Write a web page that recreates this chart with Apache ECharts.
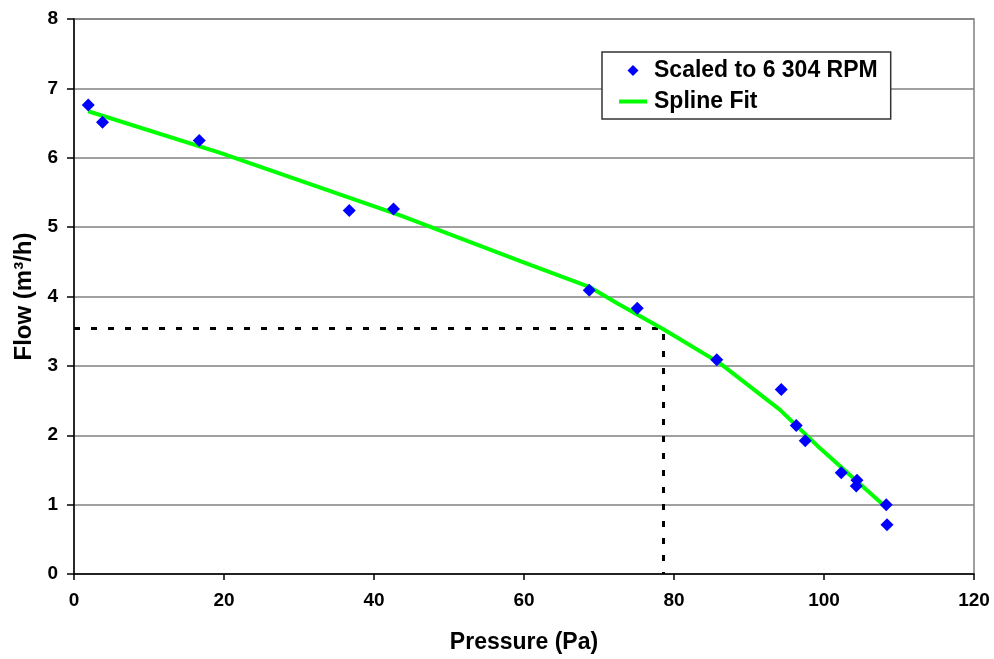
<!DOCTYPE html>
<html>
<head>
<meta charset="utf-8">
<script src="https://cdn.jsdelivr.net/npm/echarts@6/dist/echarts.min.js"></script>
<style>html,body{margin:0;padding:0;background:#fff;}#c{width:994px;height:659px;}</style>
</head>
<body>
<div id="c"></div>
<script>
// Measured data (Pressure in Pa, Flow in m³/h)
const pressure = [1.9, 3.8, 16.7, 36.7, 42.6, 68.7, 75.1, 85.7, 94.3, 96.3, 97.5, 102.3, 104.4, 104.3, 108.3, 108.4];
const flow     = [6.76, 6.51, 6.25, 5.24, 5.26, 4.09, 3.83, 3.09, 2.66, 2.14, 1.92, 1.46, 1.35, 1.27, 1.00, 0.71];
// Spline fit curve
const fitX = [1.9, 19.5, 43.5, 59.5, 68.7, 72.3, 78.7, 86.1, 94.1, 99.1, 108.3];
const fitY = [6.67, 6.07, 5.17, 4.51, 4.14, 3.91, 3.52, 3.04, 2.37, 1.85, 0.96];
// Reference (operating point) dashed lines
const refX = [0, 78.6, 78.6];
const refY = [3.54, 3.54, 0];
// Axis ticks
const xTicks = [0, 20, 40, 60, 80, 100, 120];
const yTicks = [0, 1, 2, 3, 4, 5, 6, 7, 8];
const seriesNames = ['Scaled to 6 304 RPM', 'Spline Fit'];

const zip = (a, b) => a.map((v, i) => [v, b[i]]);
const font = 'Liberation Sans, Arial, sans-serif';

const chart = echarts.init(document.getElementById('c'), null, {renderer: 'canvas'});
chart.setOption({
  animation: false,
  backgroundColor: '#ffffff',
  textStyle: {fontFamily: font},
  grid: {left: 74, right: 20, top: 19, bottom: 80, show: true, borderColor: '#808080', borderWidth: 1.5, backgroundColor: '#ffffff'},
  legend: {
    data: [
      {name: seriesNames[0], icon: 'path://M5,0L10,5L5,10L0,5Z', itemStyle: {color: '#0000ff'}},
      {name: seriesNames[1], icon: 'path://M0,0H28V4H0Z', itemStyle: {color: '#00ff00'}}
    ],
    orient: 'vertical',
    left: 602, top: 52,
    padding: [7, 13, 6, 17],
    itemWidth: 28, itemHeight: 11, itemGap: 8,
    symbolKeepAspect: true,
    backgroundColor: '#ffffff',
    borderColor: '#333333', borderWidth: 1.5,
    textStyle: {fontFamily: font, fontSize: 23, fontWeight: 'bold', color: '#000', lineHeight: 23, padding: [0,0,0,2]}
  },
  xAxis: {
    type: 'value', min: xTicks[0], max: xTicks[xTicks.length - 1], interval: xTicks[1] - xTicks[0],
    name: 'Pressure (Pa)', nameLocation: 'middle', nameGap: 57,
    nameTextStyle: {fontFamily: font, fontSize: 23, fontWeight: 'bold', color: '#000'},
    axisLine: {onZero: false, lineStyle: {color: '#000', width: 1.5}},
    axisTick: {show: true, inside: false, length: 6, lineStyle: {color: '#000', width: 1.5}},
    axisLabel: {margin: 17, fontFamily: font, fontSize: 19, fontWeight: 'bold', color: '#000'},
    splitLine: {show: false}
  },
  yAxis: {
    type: 'value', min: yTicks[0], max: yTicks[yTicks.length - 1], interval: yTicks[1] - yTicks[0],
    name: 'Flow (m³/h)', nameLocation: 'middle', nameGap: 36,
    nameTextStyle: {fontFamily: font, fontSize: 24, fontWeight: 'bold', color: '#000'},
    axisLine: {onZero: false, lineStyle: {color: '#000', width: 1.5}},
    axisTick: {show: true, inside: false, length: 7, lineStyle: {color: '#000', width: 1.5}},
    axisLabel: {margin: 16, fontFamily: font, fontSize: 19, fontWeight: 'bold', color: '#000'},
    splitLine: {show: true, lineStyle: {color: '#808080', width: 1.5}}
  },
  series: [
    {
      name: 'ref', type: 'line', data: zip(refX, refY), symbol: 'none', z: 2,
      lineStyle: {color: '#000', width: 3, type: [6, 11]}, silent: true
    },
    {
      name: seriesNames[1], type: 'line', data: zip(fitX, fitY), symbol: 'none', showSymbol: false, z: 3,
      smooth: false, lineStyle: {color: '#00ff00', width: 4}, itemStyle: {color: '#00ff00'}
    },
    {
      name: seriesNames[0], type: 'scatter', data: zip(pressure, flow), symbol: 'diamond', symbolSize: 13, z: 4,
      itemStyle: {color: '#0000ff', opacity: 1}
    }
  ]
});
</script>
</body>
</html>
